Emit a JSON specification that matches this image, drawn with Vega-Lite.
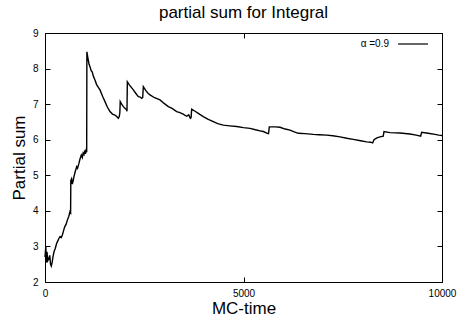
{
  "$schema": "https://vega.github.io/schema/vega-lite/v6.json",
  "width": 397,
  "height": 249,
  "autosize": {"type": "none"},
  "padding": {"left": 45, "top": 33, "right": 16, "bottom": 37},
  "background": "white",
  "config": {
    "font": "Liberation Sans",
    "view": {"stroke": "black", "strokeWidth": 1},
    "axis": {"grid": false, "domain": false, "tickColor": "black", "labelColor": "black", "titleColor": "black", "labelFont": "Liberation Sans", "titleFont": "Liberation Sans", "titleFontWeight": "normal"}
  },
  "title": {"text": "partial sum for Integral", "fontSize": 17, "fontWeight": "normal", "font": "Liberation Sans", "color": "black", "offset": 6},
  "data": {"values": [
    {"t": 0, "s": 2.7}, {"t": 20, "s": 3.0}, {"t": 35, "s": 2.55}, {"t": 50, "s": 2.85}, {"t": 70, "s": 2.6},
    {"t": 100, "s": 2.67}, {"t": 120, "s": 2.75}, {"t": 140, "s": 2.5}, {"t": 159, "s": 2.45}, {"t": 180, "s": 2.55},
    {"t": 200, "s": 2.7}, {"t": 227, "s": 2.85}, {"t": 260, "s": 2.95}, {"t": 294, "s": 3.09}, {"t": 320, "s": 3.15},
    {"t": 353, "s": 3.23}, {"t": 380, "s": 3.28}, {"t": 410, "s": 3.25}, {"t": 437, "s": 3.32}, {"t": 470, "s": 3.45},
    {"t": 496, "s": 3.55}, {"t": 530, "s": 3.62}, {"t": 563, "s": 3.74}, {"t": 600, "s": 3.85}, {"t": 630, "s": 3.98},
    {"t": 645, "s": 3.95}, {"t": 650, "s": 4.85}, {"t": 670, "s": 4.9}, {"t": 688, "s": 4.75}, {"t": 710, "s": 4.85},
    {"t": 730, "s": 4.96}, {"t": 760, "s": 5.1}, {"t": 798, "s": 5.24}, {"t": 820, "s": 5.2}, {"t": 856, "s": 5.34},
    {"t": 880, "s": 5.45}, {"t": 915, "s": 5.57}, {"t": 940, "s": 5.5}, {"t": 960, "s": 5.62}, {"t": 982, "s": 5.58},
    {"t": 1000, "s": 5.7}, {"t": 1020, "s": 5.6}, {"t": 1040, "s": 5.75}, {"t": 1050, "s": 5.65}, {"t": 1055, "s": 8.47},
    {"t": 1080, "s": 8.3}, {"t": 1110, "s": 8.12}, {"t": 1134, "s": 8.05}, {"t": 1160, "s": 7.95}, {"t": 1190, "s": 7.9},
    {"t": 1220, "s": 7.78}, {"t": 1259, "s": 7.68}, {"t": 1300, "s": 7.55}, {"t": 1340, "s": 7.48}, {"t": 1385, "s": 7.4},
    {"t": 1450, "s": 7.22}, {"t": 1511, "s": 7.07}, {"t": 1570, "s": 6.92}, {"t": 1637, "s": 6.79}, {"t": 1700, "s": 6.72},
    {"t": 1763, "s": 6.69}, {"t": 1800, "s": 6.66}, {"t": 1847, "s": 6.6}, {"t": 1870, "s": 6.65}, {"t": 1885, "s": 6.75},
    {"t": 1895, "s": 7.07}, {"t": 1930, "s": 7.0}, {"t": 1973, "s": 6.93}, {"t": 2020, "s": 6.88}, {"t": 2057, "s": 6.84},
    {"t": 2065, "s": 6.8}, {"t": 2074, "s": 7.63}, {"t": 2120, "s": 7.55}, {"t": 2170, "s": 7.48}, {"t": 2225, "s": 7.4},
    {"t": 2290, "s": 7.3}, {"t": 2351, "s": 7.21}, {"t": 2400, "s": 7.2}, {"t": 2435, "s": 7.16}, {"t": 2460, "s": 7.18},
    {"t": 2477, "s": 7.49}, {"t": 2540, "s": 7.38}, {"t": 2600, "s": 7.3}, {"t": 2645, "s": 7.26}, {"t": 2760, "s": 7.18},
    {"t": 2897, "s": 7.12}, {"t": 3000, "s": 7.02}, {"t": 3107, "s": 6.93}, {"t": 3200, "s": 6.88}, {"t": 3317, "s": 6.79},
    {"t": 3400, "s": 6.76}, {"t": 3480, "s": 6.72}, {"t": 3569, "s": 6.66}, {"t": 3620, "s": 6.7}, {"t": 3660, "s": 6.6},
    {"t": 3680, "s": 6.62}, {"t": 3694, "s": 6.86}, {"t": 3780, "s": 6.8}, {"t": 3862, "s": 6.74}, {"t": 3987, "s": 6.65},
    {"t": 4100, "s": 6.58}, {"t": 4240, "s": 6.51}, {"t": 4350, "s": 6.45}, {"t": 4492, "s": 6.41}, {"t": 4650, "s": 6.39},
    {"t": 4828, "s": 6.37}, {"t": 5000, "s": 6.34}, {"t": 5164, "s": 6.32}, {"t": 5300, "s": 6.28}, {"t": 5416, "s": 6.25},
    {"t": 5500, "s": 6.23}, {"t": 5600, "s": 6.18}, {"t": 5630, "s": 6.17}, {"t": 5650, "s": 6.36}, {"t": 5800, "s": 6.36},
    {"t": 5919, "s": 6.35}, {"t": 6050, "s": 6.3}, {"t": 6171, "s": 6.27}, {"t": 6280, "s": 6.22}, {"t": 6381, "s": 6.18},
    {"t": 6550, "s": 6.17}, {"t": 6759, "s": 6.15}, {"t": 6900, "s": 6.14}, {"t": 7095, "s": 6.13}, {"t": 7250, "s": 6.11},
    {"t": 7431, "s": 6.08}, {"t": 7600, "s": 6.04}, {"t": 7766, "s": 6.01}, {"t": 7950, "s": 5.97}, {"t": 8103, "s": 5.94},
    {"t": 8200, "s": 5.93}, {"t": 8254, "s": 5.91}, {"t": 8287, "s": 6.0}, {"t": 8360, "s": 6.05}, {"t": 8438, "s": 6.08},
    {"t": 8520, "s": 6.1}, {"t": 8539, "s": 6.23}, {"t": 8690, "s": 6.2}, {"t": 8942, "s": 6.19}, {"t": 9194, "s": 6.16},
    {"t": 9350, "s": 6.13}, {"t": 9463, "s": 6.1}, {"t": 9488, "s": 6.21}, {"t": 9650, "s": 6.18}, {"t": 9824, "s": 6.15},
    {"t": 9920, "s": 6.13}, {"t": 10000, "s": 6.12}
  ]},
  "layer": [
    {
      "mark": {"type": "line", "strokeWidth": 1.4, "interpolate": "linear"},
      "encoding": {
        "x": {"field": "t", "type": "quantitative", "scale": {"domain": [0, 10000], "nice": false, "zero": false},
              "axis": {"orient": "bottom", "values": [0, 5000, 10000], "format": "d", "labelFlush": false, "tickSize": -5, "labelPadding": 11, "labelFontSize": 10, "title": "MC-time", "titleFontSize": 17, "titlePadding": 2}},
        "y": {"field": "s", "type": "quantitative", "scale": {"domain": [2, 9], "nice": false, "zero": false},
              "axis": {"orient": "left", "values": [2, 3, 4, 5, 6, 7, 8, 9], "format": "d", "labelFlush": false, "tickSize": -5, "labelPadding": 12, "labelFontSize": 10, "title": "Partial sum", "titleFontSize": 17, "titlePadding": 4}},
        "color": {"datum": "α =0.9", "type": "nominal", "scale": {"range": ["black"]},
                  "legend": {"title": null, "orient": "none", "legendX": 352, "legendY": -5, "symbolType": "stroke", "symbolSize": 900, "symbolStrokeWidth": 1.2, "labelFontSize": 10, "labelAlign": "right", "labelOffset": -40, "padding": 0}}
      }
    },
    {
      "mark": {"type": "line", "strokeWidth": 0, "opacity": 0},
      "encoding": {
        "x": {"field": "t", "type": "quantitative", "axis": {"orient": "top", "values": [0, 5000, 10000], "tickSize": -5, "labels": false, "title": null}},
        "y": {"field": "s", "type": "quantitative", "axis": {"orient": "right", "values": [2, 3, 4, 5, 6, 7, 8, 9], "tickSize": -5, "labels": false, "title": null}}
      }
    }
  ],
  "resolve": {"axis": {"x": "independent", "y": "independent"}}
}
